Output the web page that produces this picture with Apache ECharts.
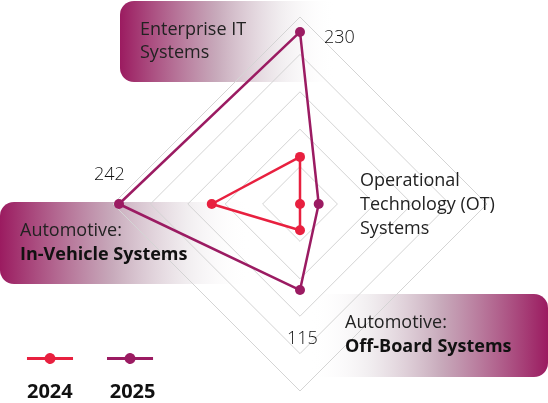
<!DOCTYPE html>
<html>
<head>
<meta charset="utf-8">
<script src="https://cdn.jsdelivr.net/npm/echarts@6/dist/echarts.min.js"></script>
<style>
html,body{margin:0;padding:0;background:#fff;}
#chart{width:548px;height:403px;}
</style>
</head>
<body>
<div id="chart"></div>
<script>
// order: top, left, bottom, right
var categories = ['Enterprise IT Systems', 'Automotive: In-Vehicle Systems', 'Automotive: Off-Board Systems', 'Operational Technology (OT) Systems'];
var categoryLines = [
  ['Enterprise IT', 'Systems'],
  ['Automotive:', 'In-Vehicle Systems'],
  ['Automotive:', 'Off-Board Systems'],
  ['Operational', 'Technology (OT)', 'Systems']
];
var seriesNames = ['2024', '2025'];
var values2024 = [63, 118, 35, 0];
var values2025 = [230, 242, 115, 25];
var axisMax = 250;

var C24 = '#e8203f', C25 = '#9b1b62';
var FONT = '"Open Sans", sans-serif';

function grad(reverse) {
  var stops = [
    {offset: 0, color: 'rgba(155,27,96,1)'},
    {offset: 0.45, color: 'rgba(190,155,175,0.85)'},
    {offset: 0.75, color: 'rgba(232,226,230,0.6)'},
    {offset: 1, color: 'rgba(255,255,255,0)'}
  ];
  if (reverse) stops = stops.map(function (s) { return {offset: 1 - s.offset, color: s.color}; }).reverse();
  return new echarts.graphic.LinearGradient(0, 0, 1, 0, stops);
}

var chart = echarts.init(document.getElementById('chart'), null, {renderer: 'canvas'});
var legendIcon = 'path://M0,5.5 H17.71 A5.5,5.5 0 0 1 28.29,5.5 H46 V8.5 H28.29 A5.5,5.5 0 0 1 17.71,8.5 H0 Z';

var boldRich = {b: {fontFamily: FONT, fontSize: 18, fontWeight: 'bold', lineHeight: 24, fill: '#111'}};

var option = {
  animation: false,
  backgroundColor: '#fff',
  color: [C24, C25],
  legend: [{
    data: seriesNames,
    left: 26, top: 353,
    padding: 0,
    icon: legendIcon,
    itemWidth: 48, itemHeight: 11,
    itemGap: 33,
    formatter: function () { return ''; },
    textStyle: {fontSize: 1}
  }, {
    data: seriesNames,
    left: 22, top: 382,
    padding: 0,
    icon: 'none',
    itemWidth: 0, itemHeight: 10,
    itemGap: 32,
    textStyle: {fontFamily: FONT, fontSize: 20, fontWeight: 'bold', color: '#111'}
  }],
  radar: {
    center: [300, 204],
    radius: 187,
    startAngle: 90,
    splitNumber: 5,
    shape: 'polygon',
    indicator: categories.map(function (c) { return {name: c, min: 0, max: axisMax}; }),
    axisName: {show: false},
    axisLine: {show: false},
    axisTick: {show: false},
    splitArea: {show: false},
    splitLine: {lineStyle: {color: '#d4d4d4', width: 1}}
  },
  graphic: {
    elements: [
      {type: 'rect', z: -1, shape: {x: 120, y: 1, width: 215, height: 81, r: [14, 0, 0, 14]}, style: {fill: grad(false)}},
      {type: 'rect', z: -1, shape: {x: 0, y: 202, width: 250, height: 82, r: [14, 0, 0, 14]}, style: {fill: grad(false)}},
      {type: 'rect', z: -1, shape: {x: 310, y: 294, width: 238, height: 83, r: [0, 14, 14, 0]}, style: {fill: grad(true)}},
      {type: 'text', z: 100, left: 140, top: 18, style: {text: categoryLines[0].join('\n'), font: '18px ' + FONT, lineHeight: 23, fill: '#222'}},
      {type: 'text', z: 100, left: 20, top: 219, style: {text: categoryLines[1][0] + '\n{b|' + categoryLines[1][1] + '}', font: '18px ' + FONT, lineHeight: 24, fill: '#222', rich: boldRich}},
      {type: 'text', z: 100, left: 345, top: 311, style: {text: categoryLines[2][0] + '\n{b|' + categoryLines[2][1] + '}', font: '18px ' + FONT, lineHeight: 24, fill: '#222', rich: boldRich}},
      {type: 'text', z: 100, left: 360, top: 169, style: {text: categoryLines[3].join('\n'), font: '18px ' + FONT, lineHeight: 24, fill: '#222'}},
      {type: 'text', z: 100, left: 324, top: 29, style: {text: String(values2025[0]), font: '300 18px ' + FONT, fill: '#111'}},
      {type: 'text', z: 100, left: 94, top: 166, style: {text: String(values2025[1]), font: '300 18px ' + FONT, fill: '#111'}},
      {type: 'text', z: 100, left: 287, top: 330, style: {text: String(values2025[2]), font: '300 18px ' + FONT, fill: '#111'}}
    ]
  },
  series: [{
    type: 'radar',
    z: 5,
    symbol: 'circle',
    symbolSize: 10,
    data: [
      {name: seriesNames[0], value: values2024, lineStyle: {color: C24, width: 2.5}, itemStyle: {color: C24}},
      {name: seriesNames[1], value: values2025, lineStyle: {color: C25, width: 2.5}, itemStyle: {color: C25}}
    ]
  }]
};
chart.setOption(option);
</script>
</body>
</html>
